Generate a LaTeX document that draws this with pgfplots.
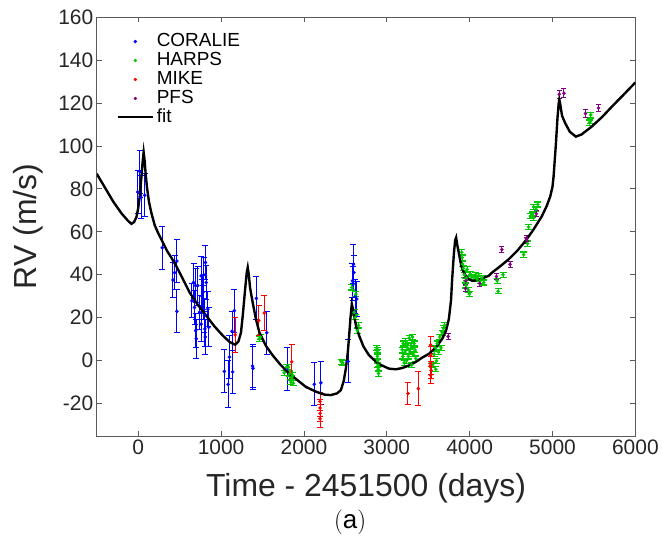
\documentclass[border=0pt]{standalone}
\usepackage{pgfplots}
\usepackage{pgfplotstable}
\pgfplotsset{compat=1.18}
\usepackage{fontspec}
\setmainfont{Liberation Sans}
\definecolor{cblue}{rgb}{0,0,1}
\definecolor{cgreen}{rgb}{0,0.78,0}
\definecolor{cred}{rgb}{1,0,0}
\definecolor{cpurple}{rgb}{0.5,0,0.5}

\pgfplotstableread{
x y e
-5 78.5 10
20 88 10
35 76 10
80 77 10
291 52.6 10
420 37.6 8
440 41 8
467 46.4 10
467 23 10
648 27.9 8
668 36.4 9
680 24.8 8
692 14 8
692 35 8
700 10.2 9
720 34.9 9
740 22.5 8
760 39.5 9
760 17 8
770 30 8
780 31.8 8
788 27.2 8
790 40 8
800 21 8
805 14.8 8
809 11 8
812 45.7 8
821 36.4 8
840 24 8
852 15.6 9
1040 -5 10
1085 -11 11
1101 1.7 10
1133 13.7 9
1141 -5.2 10
1161 23.3 10
1380 -2.5 10
1385 -3.5 10
1426 29 10
1551 13 10
1796 -3.7 10
2125 -11 10
2205 -10.3 10
2534 -0.3 10
2586 37.2 8
2590 36 8
2598 44.9 9
2603 41 8
2620 30 8
2638 28.7 8
}\coralie

\pgfplotstableread{
x y e
1170 12 8
1454 18.7 7
1522 22.2 8
1852 -0.5 8
2195 -19 4
2195 -22 4
2195 -24.5 4
2195 -27 4
3256 -15.3 5
3380 -13 8
3529 7.4 4
3529 2.5 4
3529 -2.2 4
3529 -6.8 4
3535 -4.5 4
}\mike

\pgfplotstableread{
x y e
1462 10.2 1.2
1475 11 1.2
1763 -5.6 1.2
1790 -3 1.2
1815 -3 1.2
1830 -6 1.2
1844 -9.9 1.2
1855 -8 1.2
1864 -6.8 1.2
1870 -10.5 1.2
2450 -0.5 1.2
2470 -1 1.2
2578 34.1 1.2
2606 22.5 1.2
2618 20.2 1.2
2626 31 1.2
2646 14 1.2
2658 16.4 1.2
2880 6 1.2
2884 4 1.2
2886 2 1.2
2890 0 1.2
2893 -2 1.2
2896 -4 1.2
2900 -6 1.2
2888 5 1.2
3185 5 1.2
3195 2 1.2
3200 8 1.2
3210 -1 1.2
3220 4 1.2
3230 9 1.2
3240 0 1.2
3250 6 1.2
3260 2 1.2
3270 10.5 1.2
3280 4 1.2
3290 7 1.2
3300 -2 1.2
3310 11 1.2
3320 3 1.2
3330 8 1.2
3340 5 1.2
3350 1 1.2
3555 -2 1.2
3570 3 1.2
3585 6 1.2
3590 -4 1.2
3600 0 1.2
3610 8 1.2
3625 4 1.2
3640 11 1.2
3655 6 1.2
3670 13 1.2
3685 15 1.2
3700 16.5 1.2
3905 50.5 1.2
3910 48 1.2
3915 45 1.2
3925 43 1.2
3935 40 1.2
3945 37 1.2
3955 35 1.2
3960 38.5 1.2
3970 42.5 1.2
3985 33 1.2
3995 31 1.2
4010 40.3 1.2
4025 39 1.2
4050 38.7 1.2
4070 40 1.2
4090 38 1.2
4110 39.5 1.2
4131 37.2 1.2
4150 38.5 1.2
4170 36.4 1.2
4331 37.2 1.2
4343 32.3 1.2
4403 40 1.2
4652 49.4 1.2
4700 54.5 1.2
4712 62.2 1.2
4733 67.3 1.2
4755 68 1.2
4773 66.5 1.2
4773 71.6 1.2
4800 70.5 1.2
4821 72.7 1.2
5447 110.8 1.2
5455 111.5 1.2
5462 114.4 1.2
}\harps

\pgfplotstableread{
x y e
3741 11.3 1.5
3950 33.6 1.5
3955 37.2 1.5
4120 36 1.5
4323 39.2 1.5
4388 51.7 1.5
4488 44.9 1.5
4684 57 1.5
4690 56 1.5
4805 68.4 1.5
5082 124 2
5138 124.5 2
5398 115.1 1.8
5555 117.6 1.5
}\pfs

\pgfplotstableread{
x y
-500 87
-400 80.5
-300 74
-200 68.5
-120 65
-82 63.7
-50 64.5
-20 67
0 71
20 77
40 86
55 93
66 97
78 93
90 87
105 81
130 74
159 68.8
200 63
240 59.5
279 56.5
350 51
400 48
460 44
540 38
620 31.8
720 26
821 21
920 16
1021 11.7
1100 8.8
1170 7.4
1210 9
1240 13
1262 21
1290 33
1310 41
1322 43.4
1335 40
1350 34
1382 27
1420 19.5
1462 13.3
1540 7
1623 2.5
1720 -2
1823 -6
1920 -9
2024 -12.2
2150 -14.5
2250 -15.8
2325 -16
2400 -15.2
2446 -13.7
2480 -9.5
2506 -3.7
2530 4
2546 11.7
2562 20
2578 26.4
2592 24
2606 21
2630 16
2666 11.7
2720 6.5
2786 2.5
2900 -1.5
3027 -3.7
3110 -4
3187 -3.4
3270 -2.2
3348 -0.6
3430 1.5
3509 3.2
3600 6.5
3669 10.2
3715 14
3749 19.4
3775 28
3789 38
3810 50
3825 56
3837 57.3
3850 54
3870 50
3900 44
3930 41
3970 38.5
4030 37.2
4050 37.2
4130 38
4230 39.5
4270 41
4370 44
4471 47.2
4570 51
4673 55.7
4770 61
4872 67.3
4930 72
4973 76.5
5000 81
5013 85.8
5030 95
5041 101
5060 113
5075 120
5082 121.6
5095 119
5115 114
5154 110.5
5210 106.5
5282 104.3
5350 105.3
5474 109
5600 113.5
5715 118.2
5850 123.5
6000 129.5
}\fit

\begin{document}
\begin{tikzpicture}
\begin{axis}[
  scale only axis, width=540pt, height=420pt,
  xmin=-500, xmax=6000, ymin=-35, ymax=160,
  xtick={0,1000,...,6000}, ytick={-20,0,...,160},
  /pgf/number format/assume math mode=true,
  /pgf/number format/1000 sep={},
  tick label style={font=\fontsize{21}{21}\selectfont, text=black!85},
  tick align=inside, major tick length=5pt,
  axis line style={black!65, line width=0.7pt},
  every tick/.style={black!65, line width=0.7pt},
  xlabel={Time - 2451500 (days)}, ylabel={RV (m/s)},
  label style={font=\fontsize{32}{32}\selectfont, text=black!85},
  xlabel style={at={([yshift=-61pt]axis description cs:0.5,0)}, anchor=base},
  ylabel style={at={([xshift=-60pt]axis description cs:0,0.5)}, anchor=base},
  legend style={at={([xshift=20pt,yshift=-15pt]axis description cs:0,1)}, anchor=north west,
    draw=none, fill=none, font=\fontsize{19}{19}\selectfont, row sep=0pt, column sep=2pt,
    inner sep=0pt, nodes={inner sep=1pt, text height=13.5pt, text depth=3.5pt}},
  legend cell align=left,
]
\addplot[forget plot, only marks, mark=*, mark size=1.6pt, cblue,
  error bars/.cd, y dir=both, y explicit,
  error bar style={cblue, line width=1pt},
  error mark options={cblue, rotate=90, mark size=3pt, line width=1pt}]
  table[x=x, y=y, y error=e] {\coralie};
\addplot[forget plot, only marks, mark=*, mark size=1.6pt, cgreen,
  error bars/.cd, y dir=both, y explicit,
  error bar style={cgreen, line width=1pt},
  error mark options={cgreen, rotate=90, mark size=3.5pt, line width=1.2pt}]
  table[x=x, y=y, y error=e] {\harps};
\addplot[forget plot, only marks, mark=*, mark size=1.6pt, cred,
  error bars/.cd, y dir=both, y explicit,
  error bar style={cred, line width=1pt},
  error mark options={cred, rotate=90, mark size=3pt, line width=1pt}]
  table[x=x, y=y, y error=e] {\mike};
\addplot[forget plot, only marks, mark=*, mark size=1.6pt, cpurple,
  error bars/.cd, y dir=both, y explicit,
  error bar style={cpurple, line width=1pt},
  error mark options={cpurple, rotate=90, mark size=2.5pt, line width=1pt}]
  table[x=x, y=y, y error=e] {\pfs};
\addplot[forget plot, black, line width=2.4pt] table[x=x, y=y] {\fit};
\addlegendimage{legend image code/.code={\fill[cblue] (17.5pt,0) circle (1.5pt);}}
\addlegendentry{CORALIE}
\addlegendimage{legend image code/.code={\fill[cgreen] (17.5pt,0) circle (1.5pt);}}
\addlegendentry{HARPS}
\addlegendimage{legend image code/.code={\fill[cred] (17.5pt,0) circle (1.5pt);}}
\addlegendentry{MIKE}
\addlegendimage{legend image code/.code={\fill[cpurple] (17.5pt,0) circle (1.5pt);}}
\addlegendentry{PFS}
\addlegendimage{legend image code/.code={\draw[black, line width=2pt] (0pt,0) -- (35pt,0);}}
\addlegendentry{fit}
\end{axis}
\node[anchor=base, font=\fontsize{26}{26}\selectfont] at (254pt,-93pt) {$(\mathrm{a})$};
\path (-97pt,-105pt) rectangle (565pt,437pt);
\end{tikzpicture}
\end{document}
